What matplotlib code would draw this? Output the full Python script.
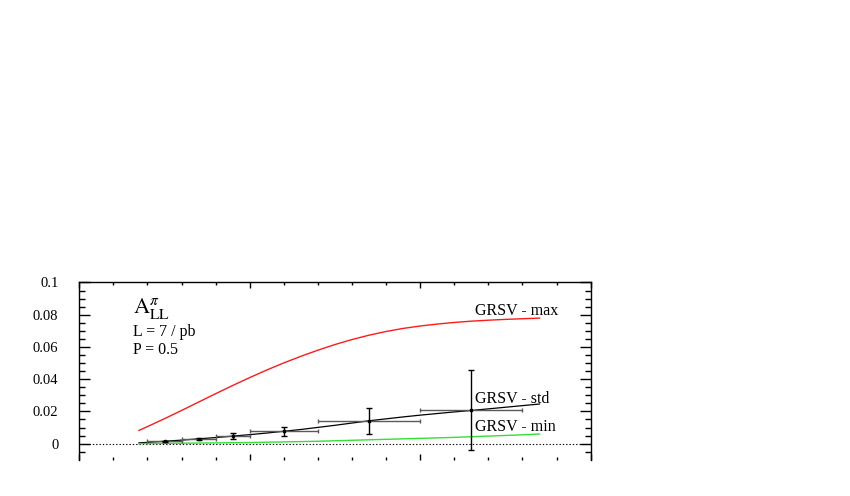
import matplotlib.pyplot as plt
import numpy as np

plt.rcParams['font.family'] = ['Liberation Serif', 'DejaVu Serif']
plt.rcParams['mathtext.fontset'] = 'stix'

# theory curves (GRSV)
pt_theory = [1.75, 2.0, 2.5, 3.0, 3.5, 4.0, 4.5, 5.0, 5.5, 6.0, 6.5, 7.0, 7.5,
             8.0, 8.5, 9.0, 9.5, 10.0, 10.5, 11.0, 11.5, 12.0, 12.5, 13.0, 13.5]
grsv_max = [0.0082, 0.0106, 0.0155, 0.0206, 0.0258, 0.0310, 0.0361, 0.0410, 0.0457,
            0.0501, 0.0542, 0.0580, 0.0615, 0.0646, 0.0673, 0.0696, 0.0715, 0.0730,
            0.0742, 0.0752, 0.0760, 0.0766, 0.0771, 0.0775, 0.0779]
grsv_std = [0.0005, 0.0008, 0.0015, 0.0022, 0.0030, 0.0038, 0.0047, 0.0056, 0.0066,
            0.0077, 0.0088, 0.0101, 0.0114, 0.0128, 0.0142, 0.0154, 0.0166, 0.0177,
            0.0187, 0.0197, 0.0206, 0.0216, 0.0226, 0.0236, 0.0246]
grsv_min = [0.0, 0.0001, 0.0002, 0.0003, 0.0004, 0.0005, 0.0006, 0.0007, 0.0009,
            0.0011, 0.0013, 0.0015, 0.0018, 0.0021, 0.0024, 0.0027, 0.0030, 0.0033,
            0.0036, 0.0039, 0.0043, 0.0047, 0.0051, 0.0055, 0.0060]

# projected points
pt_bins = [2.5, 3.5, 4.5, 6.0, 8.5, 11.5]
pt_halfwidth = [0.5, 0.5, 0.5, 1.0, 1.5, 1.5]
all_vals = [0.0015, 0.0030, 0.0047, 0.0076, 0.0142, 0.0206]
all_errs = [0.0003, 0.0006, 0.0018, 0.0030, 0.0080, 0.0248]

ytick_vals = [0, 0.02, 0.04, 0.06, 0.08, 0.1]
ytick_labels = ['0', '0.02', '0.04', '0.06', '0.08', '0.1']

fig = plt.figure(figsize=(8.5, 4.96), dpi=100)
ax = fig.add_axes([0.0933, 0.0730, 0.6016, 0.3575])

ax.axhline(0, color='k', ls=(0, (1.2, 1.8)), lw=0.8)

ax.plot(pt_theory, grsv_max, color='#ff1a1a', lw=1)
ax.plot(pt_theory, grsv_std, color='k', lw=0.9)
ax.plot(pt_theory, grsv_min, color='#33e033', lw=1)

# bin widths in grey, stat errors in black
ax.errorbar(pt_bins, all_vals, xerr=pt_halfwidth, fmt='none', ecolor='0.35',
            elinewidth=1, capsize=1.5)
ax.errorbar(pt_bins, all_vals, yerr=all_errs, fmt='s', ms=2, color='k',
            ecolor='k', elinewidth=1, capsize=2.5)

ax.text(1.575, 0.081, r'$\mathrm{A}_{\mathrm{LL}}^{\pi}$', fontsize=16, va='baseline')
ax.text(1.575, 0.0695, 'L = 7 / pb', fontsize=11.5, va='center')
ax.text(1.575, 0.0581, 'P = 0.5', fontsize=11.5, va='center')
ax.text(11.61, 0.0825, 'GRSV - max', fontsize=11.5, va='center')
ax.text(11.61, 0.0277, 'GRSV - std', fontsize=11.5, va='center')
ax.text(11.61, 0.0104, 'GRSV - min', fontsize=11.5, va='center')

ax.set_xlim(0, 15)
ax.set_ylim(-0.01, 0.1)
ax.set_xticks(np.arange(0, 16, 5))
ax.set_xticks(np.arange(0, 16, 1), minor=True)
ax.set_yticks(ytick_vals, labels=ytick_labels)
ax.set_yticks(np.arange(-0.005, 0.1001, 0.005), minor=True)

ax.tick_params(axis='x', which='both', direction='in', top=True, bottom=True,
               labelbottom=False, width=1)
ax.tick_params(axis='x', which='major', length=4.3)
ax.tick_params(axis='x', which='minor', length=2.2)
ax.tick_params(axis='y', which='both', direction='in', left=True, right=True,
               width=1, labelsize=10.5, pad=15)
ax.tick_params(axis='y', which='major', length=8)
ax.tick_params(axis='y', which='minor', length=4.3)

ax.spines['bottom'].set_visible(False)
for s in ['left', 'right', 'top']:
    ax.spines[s].set_linewidth(1)

plt.savefig('out.png', dpi=100)
